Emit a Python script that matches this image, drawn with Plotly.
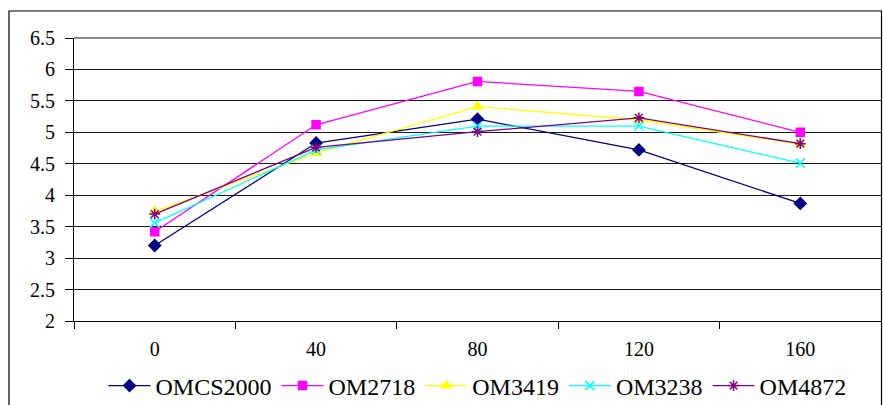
import plotly.graph_objects as go

categories = ["0", "40", "80", "120", "160"]
series_names = ["OMCS2000", "OM2718", "OM3419", "OM3238", "OM4872"]
omcs2000 = [3.20, 4.83, 5.21, 4.72, 3.87]
om2718 = [3.42, 5.12, 5.81, 5.65, 5.00]
om3419 = [3.74, 4.67, 5.41, 5.20, 4.81]
om3238 = [3.56, 4.72, 5.10, 5.10, 4.51]
om4872 = [3.70, 4.76, 5.01, 5.23, 4.82]

values = [omcs2000, om2718, om3419, om3238, om4872]
colors = ["#000080", "#FF00FF", "#FFFF00", "#00FFFF", "#800080"]
symbols = ["diamond", "square", "triangle-up", "x-thin-open", "asterisk-open"]
sizes = [9, 8, 9, 9, 9]

W, H = 883, 405
L, R, T, B = 74, 2, 38, 84
pw, ph = W - L - R, H - T - B
FONT = "Liberation Serif"

fig = go.Figure()
for name, vals, c, s, sz in zip(series_names, values, colors, symbols, sizes):
    fig.add_trace(go.Scatter(
        x=categories, y=vals, name=name, mode="lines+markers",
        line=dict(color=c, width=1.3),
        marker=dict(symbol=s, size=sz, color=c, line=dict(color=c, width=1.5)),
    ))

fig.update_layout(
    width=W, height=H,
    margin=dict(l=L, r=R, t=T, b=B, pad=0, autoexpand=False),
    paper_bgcolor="white", plot_bgcolor="white",
    font=dict(family=FONT, color="black"),
    showlegend=True,
    legend=dict(orientation="h", x=0.5, xanchor="center", y=(T + ph - 386) / ph, yanchor="middle",
                font=dict(size=24, family=FONT), itemwidth=42, traceorder="normal",
                bgcolor="rgba(0,0,0,0)"),
    xaxis=dict(type="category", range=[-0.5, 4.5], tickson="boundaries", ticks="outside", ticklen=7,
               tickcolor="black", showgrid=False, showline=True, linecolor="black", linewidth=1,
               tickfont=dict(size=20, family=FONT), ticklabelstandoff=10, zeroline=False,
               automargin=False),
    yaxis=dict(range=[2, 6.5], dtick=0.5, tick0=2, ticks="outside", ticklen=8, tickcolor="black",
               showgrid=True, gridcolor="#1a1a1a", gridwidth=1, showline=True, linecolor="black",
               linewidth=1, tickfont=dict(size=20, family=FONT), ticklabelstandoff=6,
               zeroline=False, automargin=False),
    shapes=[
        dict(type="line", xref="paper", yref="paper", x0=0, x1=1, y0=1, y1=1,
             line=dict(color="#1a1a1a", width=1)),
        dict(type="rect", xref="paper", yref="paper",
             x0=(9 - L) / pw, x1=(881.5 - L) / pw, y0=-1, y1=(T + ph - 11) / ph,
             line=dict(color="black", width=1.2), fillcolor="rgba(0,0,0,0)", layer="below"),
    ],
)

fig.write_html("out.html")
